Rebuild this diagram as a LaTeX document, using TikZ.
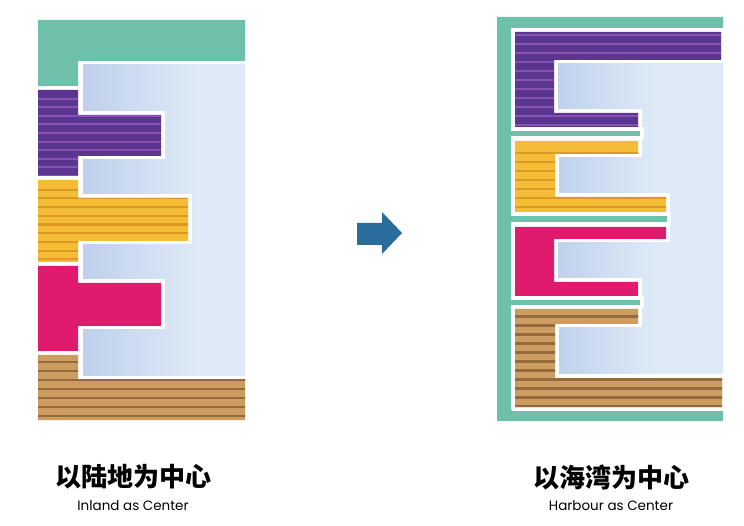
\documentclass[tikz,border=0pt]{standalone}
\usepackage{fontspec}
\newfontfamily\cjk{Noto Sans CJK SC}
\newfontfamily\eng{Poppins}
\definecolor{teal1}{RGB}{110,192,170}
\definecolor{purp}{RGB}{90,54,144}
\definecolor{purpS}{RGB}{136,82,180}
\definecolor{yel}{RGB}{245,189,54}
\definecolor{yelS}{RGB}{222,152,38}
\definecolor{pink1}{RGB}{224,26,108}
\definecolor{brn}{RGB}{204,156,96}
\definecolor{brnS}{RGB}{148,106,60}
\definecolor{lb}{RGB}{222,234,247}
\definecolor{lbD}{RGB}{166,189,226}
\definecolor{arr}{RGB}{42,108,156}
\pgfdeclarehorizontalshading{lbL}{100bp}{color(0bp)=(lbD); color(60bp)=(lb); color(100bp)=(lb)}
\pgfdeclarehorizontalshading{lbR}{100bp}{color(0bp)=(lbD); color(55bp)=(lb); color(100bp)=(lb)}
\begin{document}
\begin{tikzpicture}[x=1pt,y=-1pt,
  halo/.style={preaction={draw=white,line width=7pt,line join=miter}},
  stripe/.style={line width=2.1pt}]
\useasboundingbox[fill=white] (0,0) rectangle (744,526);
% ---------------- LEFT ----------------
\shade[shading=lbL] (83,65) rectangle (245,375);
\fill[teal1,halo] (38,20) -- (245,20) -- (245,61) -- (78,61) -- (78,86) -- (38,86) -- cycle;
% purple
\def\pL{(38,90) -- (78,90) -- (78,115) -- (161,115) -- (161,156) -- (78,156) -- (78,176) -- (38,176) -- cycle}
\fill[purp,halo] \pL;
\begin{scope}\clip \pL;
\foreach \k in {1,...,10} \draw[stripe,purpS] (30,{90+8.6*\k}) -- (260,{90+8.6*\k});
\end{scope}
% yellow
\def\yL{(38,180) -- (78,180) -- (78,198) -- (188,198) -- (188,241) -- (78,241) -- (78,262) -- (38,262) -- cycle}
\fill[yel,halo] \yL;
\begin{scope}\clip \yL;
\foreach \k in {1,...,9} \draw[stripe,yelS] (30,{181+8.7*\k}) -- (260,{181+8.7*\k});
\end{scope}
% pink
\fill[pink1,halo] (38,266) -- (78,266) -- (78,283) -- (161,283) -- (161,326) -- (78,326) -- (78,351) -- (38,351) -- cycle;
% brown
\def\bL{(38,355) -- (78,355) -- (78,379) -- (245,379) -- (245,420) -- (38,420) -- cycle}
\fill[brn,halo] \bL;
\begin{scope}\clip \bL;
\foreach \k in {1,...,7} \draw[stripe,brnS] (30,{353+9*\k}) -- (260,{353+9*\k});
\end{scope}
% ---------------- ARROW ----------------
\fill[arr] (357,223) -- (382,223) -- (382,212) -- (402,233) -- (382,254) -- (382,245) -- (357,245) -- cycle;
% ---------------- RIGHT ----------------
\shade[shading=lbR] (558,63) rectangle (723,373);
\fill[teal1,halo] (511,131) rectangle (640,136);
\fill[teal1,halo] (511,216) rectangle (667,222);
\fill[teal1,halo] (511,300) rectangle (640,305);
\fill[teal1] (497,17) -- (723,17) -- (723,28) -- (511,28) -- (511,410) -- (723,410) -- (723,421) -- (497,421) -- cycle;
% purple
\def\pR{(515,32) -- (721,32) -- (721,60) -- (554,60) -- (554,113) -- (638,113) -- (638,127) -- (515,127) -- cycle}
\fill[purp,halo] \pR;
\begin{scope}\clip \pR;
\foreach \k in {0,...,10} \draw[stripe,purpS] (505,{35+9*\k}) -- (730,{35+9*\k});
\end{scope}
% yellow
\def\yR{(515,141) -- (638,141) -- (638,154) -- (555,154) -- (555,197) -- (666,197) -- (666,212) -- (515,212) -- cycle}
\fill[yel,halo] \yR;
\begin{scope}\clip \yR;
\foreach \k in {0,...,8} \draw[stripe,yelS] (505,{153+9*\k}) -- (730,{153+9*\k});
\end{scope}
% pink
\fill[pink1,halo] (515,227) -- (666,227) -- (666,239) -- (554,239) -- (554,282) -- (638,282) -- (638,296) -- (515,296) -- cycle;
% brown
\def\bR{(515,309) -- (638,309) -- (638,324) -- (555,324) -- (555,378) -- (722,378) -- (722,407) -- (515,407) -- cycle}
\fill[brn,halo] \bR;
\begin{scope}\clip \bR;
\foreach \k in {0,...,10} \draw[stripe,brnS] (505,{316.5+9*\k}) -- (730,{316.5+9*\k});
\end{scope}
% ---------------- TEXT ----------------
\node (zhL) at (133,477) {\cjk\bfseries\fontsize{26}{26}\selectfont 以陆地为中心};
\node (enL) at (133,506) {\eng\fontsize{13.5}{13.5}\selectfont Inland as Center};
\node (zhR) at (611,477) {\cjk\bfseries\fontsize{26}{26}\selectfont 以海湾为中心};
\node (enR) at (611,506) {\eng\fontsize{13.5}{13.5}\selectfont Harbour as Center};
\end{tikzpicture}
\end{document}
